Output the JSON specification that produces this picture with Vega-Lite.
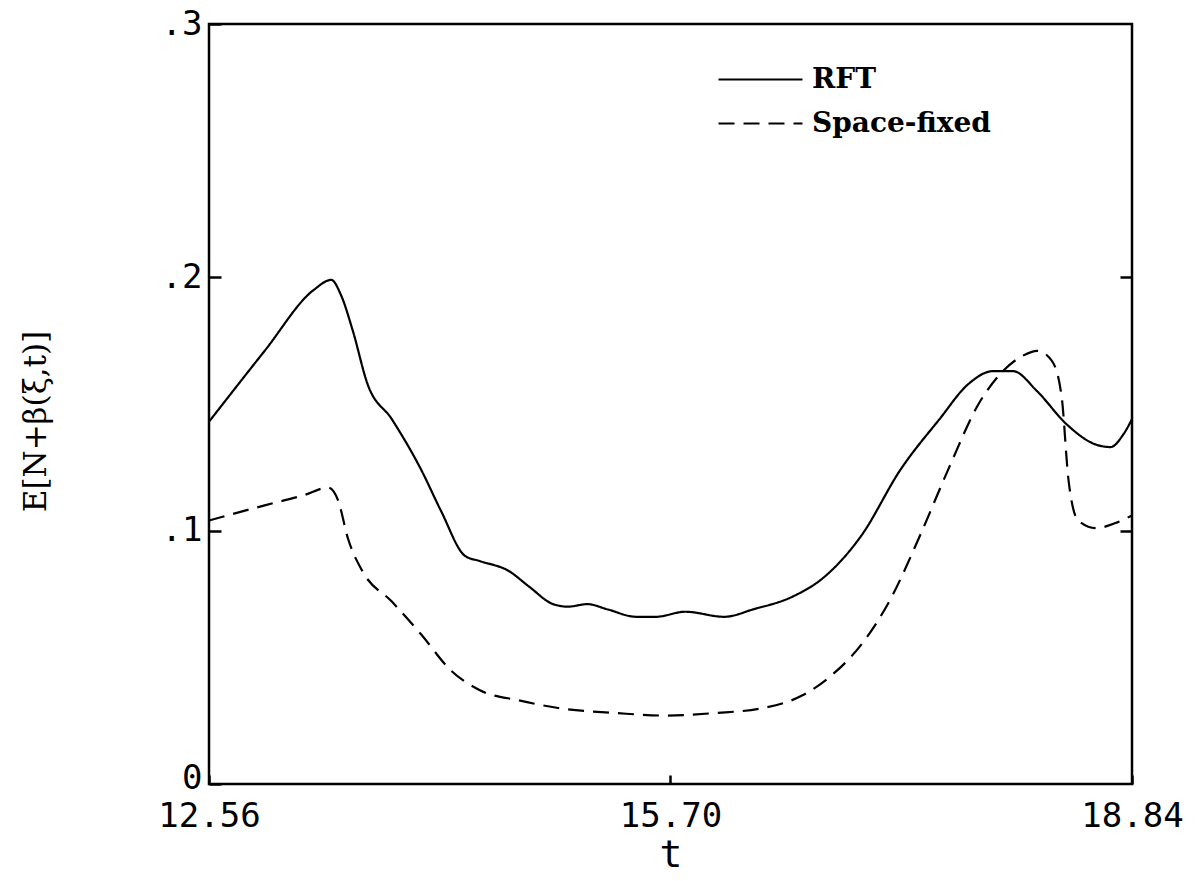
{
  "$schema": "https://vega.github.io/schema/vega-lite/v6.json",
  "width": 923,
  "height": 760,
  "autosize": "none",
  "padding": {"left": 209, "top": 24, "right": 67, "bottom": 97},
  "background": "white",
  "config": {
    "view": {"stroke": "black", "strokeWidth": 2.5},
    "axis": {
      "domain": false,
      "grid": false,
      "labelFont": "DejaVu Sans Mono",
      "labelFontSize": 34,
      "labelColor": "black",
      "labelFlush": false,
      "labelOverlap": false,
      "titleFont": "DejaVu Sans Mono",
      "titleColor": "black",
      "titleFontWeight": "normal",
      "tickColor": "black",
      "tickWidth": 2.5
    }
  },
  "datasets": {
    "curves": [
      {"t": 12.56, "v": 0.143, "s": "RFT"},
      {"t": 12.939, "v": 0.171, "s": "RFT"},
      {"t": 13.272, "v": 0.195, "s": "RFT"},
      {"t": 13.392, "v": 0.199, "s": "RFT"},
      {"t": 13.458, "v": 0.193, "s": "RFT"},
      {"t": 13.538, "v": 0.179, "s": "RFT"},
      {"t": 13.638, "v": 0.158, "s": "RFT"},
      {"t": 13.804, "v": 0.144, "s": "RFT"},
      {"t": 14.004, "v": 0.124, "s": "RFT"},
      {"t": 14.137, "v": 0.108, "s": "RFT"},
      {"t": 14.303, "v": 0.090, "s": "RFT"},
      {"t": 14.403, "v": 0.088, "s": "RFT"},
      {"t": 14.602, "v": 0.084, "s": "RFT"},
      {"t": 14.736, "v": 0.078, "s": "RFT"},
      {"t": 14.902, "v": 0.071, "s": "RFT"},
      {"t": 15.002, "v": 0.070, "s": "RFT"},
      {"t": 15.135, "v": 0.071, "s": "RFT"},
      {"t": 15.268, "v": 0.069, "s": "RFT"},
      {"t": 15.467, "v": 0.066, "s": "RFT"},
      {"t": 15.600, "v": 0.066, "s": "RFT"},
      {"t": 15.800, "v": 0.068, "s": "RFT"},
      {"t": 16.066, "v": 0.066, "s": "RFT"},
      {"t": 16.266, "v": 0.069, "s": "RFT"},
      {"t": 16.532, "v": 0.074, "s": "RFT"},
      {"t": 16.731, "v": 0.081, "s": "RFT"},
      {"t": 16.998, "v": 0.098, "s": "RFT"},
      {"t": 17.264, "v": 0.124, "s": "RFT"},
      {"t": 17.530, "v": 0.144, "s": "RFT"},
      {"t": 17.729, "v": 0.158, "s": "RFT"},
      {"t": 17.896, "v": 0.163, "s": "RFT"},
      {"t": 18.029, "v": 0.163, "s": "RFT"},
      {"t": 18.195, "v": 0.155, "s": "RFT"},
      {"t": 18.395, "v": 0.142, "s": "RFT"},
      {"t": 18.594, "v": 0.134, "s": "RFT"},
      {"t": 18.694, "v": 0.133, "s": "RFT"},
      {"t": 18.781, "v": 0.138, "s": "RFT"},
      {"t": 18.84, "v": 0.144, "s": "RFT"},
      {"t": 12.56, "v": 0.104, "s": "Space-fixed"},
      {"t": 12.939, "v": 0.110, "s": "Space-fixed"},
      {"t": 13.205, "v": 0.114, "s": "Space-fixed"},
      {"t": 13.372, "v": 0.117, "s": "Space-fixed"},
      {"t": 13.438, "v": 0.112, "s": "Space-fixed"},
      {"t": 13.505, "v": 0.097, "s": "Space-fixed"},
      {"t": 13.604, "v": 0.084, "s": "Space-fixed"},
      {"t": 13.804, "v": 0.072, "s": "Space-fixed"},
      {"t": 14.004, "v": 0.059, "s": "Space-fixed"},
      {"t": 14.203, "v": 0.045, "s": "Space-fixed"},
      {"t": 14.403, "v": 0.037, "s": "Space-fixed"},
      {"t": 14.669, "v": 0.033, "s": "Space-fixed"},
      {"t": 14.935, "v": 0.030, "s": "Space-fixed"},
      {"t": 15.334, "v": 0.028, "s": "Space-fixed"},
      {"t": 15.667, "v": 0.027, "s": "Space-fixed"},
      {"t": 16.000, "v": 0.028, "s": "Space-fixed"},
      {"t": 16.332, "v": 0.030, "s": "Space-fixed"},
      {"t": 16.598, "v": 0.035, "s": "Space-fixed"},
      {"t": 16.798, "v": 0.043, "s": "Space-fixed"},
      {"t": 16.998, "v": 0.055, "s": "Space-fixed"},
      {"t": 17.197, "v": 0.073, "s": "Space-fixed"},
      {"t": 17.397, "v": 0.098, "s": "Space-fixed"},
      {"t": 17.596, "v": 0.125, "s": "Space-fixed"},
      {"t": 17.796, "v": 0.150, "s": "Space-fixed"},
      {"t": 17.962, "v": 0.163, "s": "Space-fixed"},
      {"t": 18.095, "v": 0.169, "s": "Space-fixed"},
      {"t": 18.195, "v": 0.171, "s": "Space-fixed"},
      {"t": 18.295, "v": 0.167, "s": "Space-fixed"},
      {"t": 18.361, "v": 0.153, "s": "Space-fixed"},
      {"t": 18.408, "v": 0.120, "s": "Space-fixed"},
      {"t": 18.474, "v": 0.104, "s": "Space-fixed"},
      {"t": 18.594, "v": 0.101, "s": "Space-fixed"},
      {"t": 18.727, "v": 0.103, "s": "Space-fixed"},
      {"t": 18.84, "v": 0.106, "s": "Space-fixed"}
    ]
  },
  "data": {"name": "curves"},
  "layer": [
    {
      "mark": {"type": "line", "color": "black", "strokeWidth": 2.2, "interpolate": "monotone"},
      "encoding": {
        "x": {
          "field": "t", "type": "quantitative",
          "scale": {"domain": [12.56, 18.84], "nice": false, "zero": false},
          "axis": {
            "values": [12.56, 15.70, 18.84], "format": ".2f",
            "tickSize": -9, "labelPadding": 24,
            "title": "t", "titleFontSize": 38, "titlePadding": 3
          }
        },
        "y": {
          "field": "v", "type": "quantitative",
          "scale": {"domain": [0, 0.3], "nice": false},
          "axis": {
            "values": [0, 0.1, 0.2, 0.3],
            "labelExpr": "datum.value == 0 ? '0' : '.' + format(datum.value * 10, 'd')",
            "tickSize": -12, "labelPadding": 19,
            "labelOffset": {"condition": {"test": "datum.value == 0", "value": -6}, "value": 0},
            "title": "E[N+β(ξ,t)]", "titleFont": "DejaVu Serif", "titleFontSize": 31,
            "titleX": -157, "titleY": 397
          }
        },
        "strokeDash": {
          "field": "s", "type": "nominal",
          "scale": {"domain": ["RFT", "Space-fixed"], "range": [[1, 0], [16, 9]]},
          "legend": {
            "orient": "none", "legendX": 536, "legendY": 40,
            "title": null, "symbolType": "M-3,0H3", "symbolSize": 784,
            "symbolStrokeColor": "black", "symbolStrokeWidth": 2.2,
            "labelFont": "DejaVu Serif", "labelFontSize": 28, "labelFontWeight": "bold", "labelColor": "black",
            "labelOffset": 36, "labelLimit": 0, "rowPadding": 14, "padding": 0
          }
        }
      }
    },
    {
      "mark": {"type": "line", "opacity": 0, "strokeWidth": 0},
      "encoding": {
        "x": {"field": "t", "type": "quantitative"},
        "y": {
          "field": "v", "type": "quantitative",
          "axis": {"orient": "right", "values": [0.1, 0.2], "labels": false, "tickSize": -12, "title": null}
        }
      }
    }
  ],
  "resolve": {"axis": {"y": "independent"}}
}
